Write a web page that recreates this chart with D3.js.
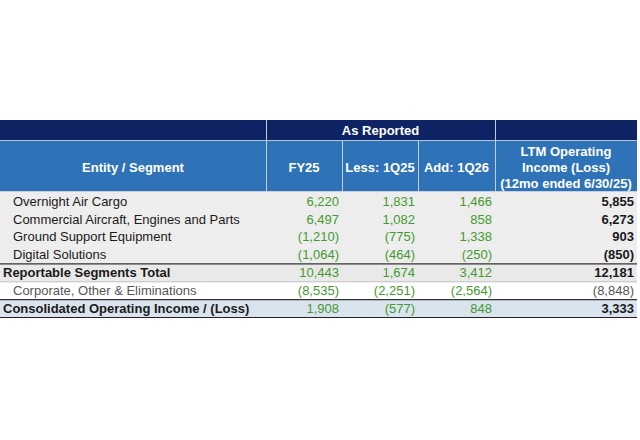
<!DOCTYPE html>
<html><head><meta charset="utf-8">
<script src="https://cdn.jsdelivr.net/npm/d3@7/dist/d3.min.js"></script>
<style>html,body{margin:0;padding:0;background:#fff;}svg{display:block;}</style>
</head><body>
<svg id="chart" width="640" height="440"></svg>
<script>
// ---- data ----
const groupHeader = "As Reported";
const firstHeader = "Entity / Segment";
const columnHeaders = [["FY25"], ["Less: 1Q25"], ["Add: 1Q26"], ["LTM Operating", "Income (Loss)", "(12mo ended 6/30/25)"]];
const categories = [
  "Overnight Air Cargo",
  "Commercial Aircraft, Engines and Parts",
  "Ground Support Equipment",
  "Digital Solutions",
  "Reportable Segments Total",
  "Corporate, Other & Eliminations",
  "Consolidated Operating Income / (Loss)"
];
const rowKind = ["segment", "segment", "segment", "segment", "total", "other", "consolidated"];
const fy25 = [6220, 6497, -1210, -1064, 10443, -8535, 1908];
const less1Q25 = [1831, 1082, -775, -464, 1674, -2251, -577];
const add1Q26 = [1466, 858, 1338, -250, 3412, -2564, 848];
const ltm = [5855, 6273, 903, -850, 12181, -8848, 3333];

// ---- layout ----
const svg = d3.select("#chart");
const font = "'Liberation Sans', Arial, sans-serif";
const colEdges = [0, 266, 342, 418, 495, 637];
const x = d3.scaleOrdinal().domain(d3.range(5)).range(colEdges.slice(0, 5));
const colW = i => colEdges[i + 1] - colEdges[i];
const y = d3.scaleBand().domain(d3.range(categories.length)).range([192, 317]).paddingInner(0);

const fmt = d3.format(",");
const money = v => v < 0 ? "(" + fmt(-v) + ")" : fmt(v);

// header bands
svg.append("rect").attr("x", 0).attr("y", 120).attr("width", 637).attr("height", 20).attr("fill", "#0e2364");
svg.append("rect").attr("x", 0).attr("y", 141).attr("width", 637).attr("height", 50).attr("fill", "#2e73b8");
svg.append("line").attr("x1", 0).attr("x2", 637).attr("y1", 140.5).attr("y2", 140.5).attr("stroke", "#b8c4d4");
svg.append("line").attr("x1", 0).attr("x2", 637).attr("y1", 191.5).attr("y2", 191.5).attr("stroke", "#c8d0dc");

// header separators
[266, 495].forEach(e => svg.append("line").attr("x1", e + 0.5).attr("x2", e + 0.5).attr("y1", 120).attr("y2", 191).attr("stroke", "#c8ccd8"));
[342, 418].forEach(e => svg.append("line").attr("x1", e + 0.5).attr("x2", e + 0.5).attr("y1", 141).attr("y2", 191).attr("stroke", "#c8ccd8"));

const hdr = svg.append("g").attr("font-family", font).attr("font-weight", "bold").attr("font-size", 13).attr("fill", "#fff").attr("text-anchor", "middle");
hdr.append("text").attr("x", (266 + 495) / 2).attr("y", 135).text(groupHeader);
hdr.append("text").attr("x", 133).attr("y", 171.5).text(firstHeader);
columnHeaders.forEach((lines, i) => {
  const cx = x(i + 1) + colW(i + 1) / 2;
  const n = lines.length;
  lines.forEach((l, j) => {
    hdr.append("text").attr("x", cx).attr("y", 171.5 + (j - (n - 1) / 2) * 16).text(l);
  });
});

// row backgrounds
const bg = {segment: "#ededed", total: "#e9e9e9", other: "#ffffff", consolidated: "#dae4ef"};
svg.append("g").selectAll("rect").data(categories).join("rect")
  .attr("x", 0).attr("width", 637)
  .attr("y", (d, i) => y(i)).attr("height", y.bandwidth())
  .attr("fill", (d, i) => bg[rowKind[i]]);

// row lines
const lineAt = (yy, c, w) => svg.append("line").attr("x1", 0).attr("x2", 637).attr("y1", yy).attr("y2", yy).attr("stroke", c).attr("stroke-width", w);
lineAt(y(4) + 0.5, "#333", 1.2);
lineAt(y(5) + 0.5, "#bbbbbb", 1);
lineAt(y(6) + 0.5, "#333", 1.2);
lineAt(y(6) + y.bandwidth() + 0.5, "#222", 1.2);

// labels
const rows = svg.append("g").attr("font-family", font).attr("font-size", 13);
rows.selectAll("text.lab").data(categories).join("text").attr("class", "lab")
  .attr("x", (d, i) => (rowKind[i] === "total" || rowKind[i] === "consolidated") ? 3 : 13)
  .attr("y", (d, i) => y(i) + y.bandwidth() / 2 + 4.8)
  .attr("font-weight", (d, i) => (rowKind[i] === "total" || rowKind[i] === "consolidated") ? "bold" : "normal")
  .attr("fill", (d, i) => rowKind[i] === "other" ? "#555" : "#1a1a1a")
  .text(d => d);

// numeric columns
const series = [fy25, less1Q25, add1Q26, ltm];
series.forEach((vals, c) => {
  const isLtm = c === 3;
  const rx = colEdges[c + 2] - 3;
  rows.selectAll("text.v" + c).data(vals).join("text").attr("class", "v" + c)
    .attr("x", rx).attr("text-anchor", "end")
    .attr("y", (d, i) => y(i) + y.bandwidth() / 2 + 4.8)
    .attr("font-weight", (d, i) => isLtm && rowKind[i] !== "other" ? "bold" : "normal")
    .attr("fill", (d, i) => isLtm ? (rowKind[i] === "other" ? "#555" : "#1a1a1a") : "#449a2e")
    .text(d => money(d));
});
</script>
</body></html>
